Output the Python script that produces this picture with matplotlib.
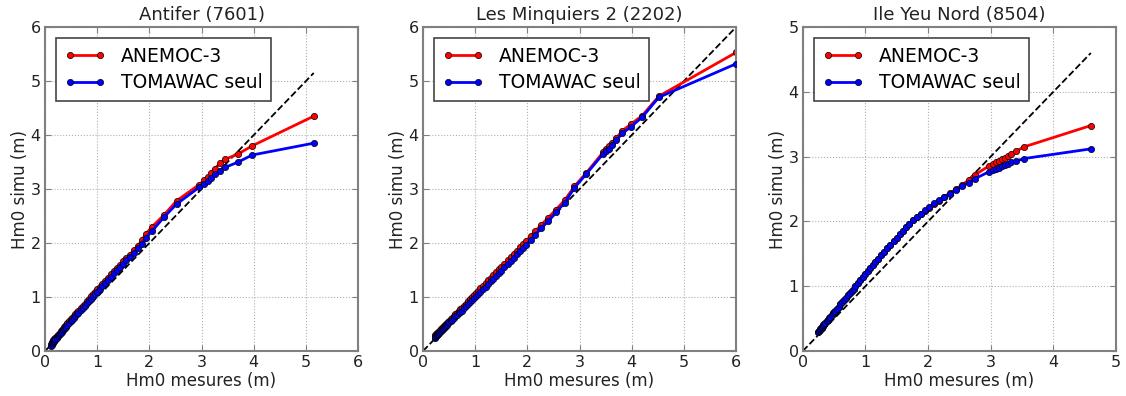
import numpy as np
import matplotlib
matplotlib.use("Agg")
import matplotlib.pyplot as plt

titles = ["Antifer (7601)", "Les Minquiers 2 (2202)", "Ile Yeu Nord (8504)"]
axis_max = [6, 6, 5]
labels = ["ANEMOC-3", "TOMAWAC seul"]

x_antifer = [0.12, 0.13, 0.14, 0.15, 0.16, 0.17, 0.18, 0.19, 0.2,
             0.22, 0.24, 0.26, 0.28, 0.3, 0.32, 0.34, 0.36, 0.38, 0.4,
             0.43, 0.46, 0.49, 0.52, 0.55, 0.58, 0.61, 0.64,
             0.68, 0.72, 0.76, 0.8, 0.84, 0.88, 0.92, 0.96, 1.0,
             1.05, 1.1, 1.15, 1.2,
             1.26, 1.32, 1.38, 1.44, 1.5, 1.56, 1.62,
             1.7, 1.78, 1.86,
             1.93, 2.05, 2.28, 2.52,
             2.95, 3.05, 3.12, 3.18, 3.25, 3.36, 3.45,
             3.7, 3.97, 5.15]
anemoc_antifer = [0.13, 0.15, 0.17, 0.18, 0.2, 0.21, 0.22, 0.24, 0.25,
                  0.27, 0.3, 0.32, 0.34, 0.37, 0.39, 0.41, 0.44, 0.46, 0.48,
                  0.52, 0.55, 0.59, 0.62, 0.65, 0.69, 0.72, 0.75,
                  0.8, 0.84, 0.88, 0.93, 0.97, 1.01, 1.06, 1.1, 1.14,
                  1.19, 1.25, 1.3, 1.35,
                  1.42, 1.48, 1.54, 1.6, 1.66, 1.72, 1.78,
                  1.87, 1.95, 2.06,
                  2.17, 2.3, 2.52, 2.78,
                  3.08, 3.16, 3.23, 3.3, 3.38, 3.48, 3.55,
                  3.65, 3.8, 4.35]
tomawac_antifer = [0.1, 0.12, 0.14, 0.15, 0.17, 0.18, 0.19, 0.21, 0.22,
                   0.24, 0.27, 0.29, 0.31, 0.34, 0.36, 0.38, 0.41, 0.43, 0.45,
                   0.49, 0.52, 0.55, 0.58, 0.61, 0.65, 0.68, 0.71,
                   0.76, 0.8, 0.84, 0.89, 0.93, 0.97, 1.02, 1.06, 1.1,
                   1.15, 1.21, 1.26, 1.31,
                   1.38, 1.44, 1.5, 1.56, 1.62, 1.68, 1.74,
                   1.82, 1.9, 1.99,
                   2.1, 2.22, 2.48, 2.72,
                   3.03, 3.1, 3.15, 3.2, 3.27, 3.33, 3.4,
                   3.5, 3.63, 3.85]

x_minquiers = [0.22, 0.23, 0.24, 0.25, 0.26, 0.27, 0.28, 0.29, 0.3,
               0.32, 0.34, 0.36, 0.38, 0.4, 0.42, 0.44, 0.46, 0.48, 0.5,
               0.53, 0.56, 0.59, 0.62, 0.65, 0.68, 0.71, 0.74,
               0.78, 0.82, 0.86, 0.9, 0.94, 0.98, 1.02, 1.06, 1.1,
               1.15, 1.2, 1.25, 1.3, 1.35, 1.4, 1.45, 1.5,
               1.56, 1.62, 1.68, 1.74, 1.8, 1.86, 1.92, 1.98,
               2.06, 2.15, 2.26, 2.4, 2.55, 2.72, 2.9, 3.13,
               3.45, 3.5, 3.56, 3.62, 3.7, 3.82, 3.98, 4.2, 4.52, 6.0]
anemoc_minquiers = [0.28, 0.29, 0.3, 0.31, 0.32, 0.33, 0.34, 0.35, 0.36,
                    0.38, 0.4, 0.42, 0.44, 0.46, 0.48, 0.5, 0.52, 0.54, 0.56,
                    0.59, 0.62, 0.65, 0.68, 0.71, 0.74, 0.77, 0.8,
                    0.84, 0.88, 0.92, 0.96, 1.0, 1.04, 1.08, 1.12, 1.16,
                    1.21, 1.26, 1.31, 1.36, 1.41, 1.46, 1.51, 1.56,
                    1.62, 1.68, 1.74, 1.8, 1.86, 1.92, 1.98, 2.04,
                    2.13, 2.22, 2.33, 2.47, 2.62, 2.8, 3.05, 3.3,
                    3.68, 3.74, 3.8, 3.86, 3.94, 4.08, 4.2, 4.36, 4.72, 5.53]
tomawac_minquiers = [0.25, 0.26, 0.27, 0.28, 0.29, 0.3, 0.31, 0.32, 0.33,
                     0.35, 0.37, 0.39, 0.41, 0.43, 0.45, 0.47, 0.49, 0.51, 0.53,
                     0.56, 0.58, 0.61, 0.64, 0.67, 0.7, 0.72, 0.75,
                     0.79, 0.83, 0.87, 0.9, 0.94, 0.98, 1.01, 1.05, 1.09,
                     1.14, 1.19, 1.24, 1.29, 1.34, 1.39, 1.44, 1.49,
                     1.55, 1.61, 1.67, 1.73, 1.79, 1.85, 1.91, 1.97,
                     2.06, 2.15, 2.27, 2.41, 2.57, 2.75, 3.02, 3.28,
                     3.65, 3.7, 3.75, 3.82, 3.9, 4.03, 4.15, 4.33, 4.7, 5.32]

x_yeu = [0.25, 0.26, 0.27, 0.28, 0.29, 0.3, 0.31, 0.32, 0.33, 0.34,
         0.36, 0.38, 0.4, 0.42, 0.44, 0.46, 0.48, 0.5, 0.52, 0.54,
         0.57, 0.6, 0.63, 0.66, 0.69, 0.72, 0.75, 0.78, 0.81, 0.84,
         0.88, 0.92, 0.96, 1.0, 1.04, 1.08, 1.12, 1.16, 1.2,
         1.25, 1.3, 1.35, 1.4, 1.45, 1.5, 1.55, 1.6, 1.65, 1.7,
         1.76, 1.82, 1.88, 1.95, 2.02, 2.1, 2.18, 2.26, 2.35, 2.45,
         2.55, 2.65, 2.75,
         2.98, 3.03, 3.08, 3.13, 3.18, 3.23, 3.28, 3.33, 3.4, 3.53, 4.6]
anemoc_yeu = [0.3, 0.31, 0.32, 0.34, 0.35, 0.36, 0.37, 0.39, 0.4, 0.41,
              0.44, 0.46, 0.48, 0.51, 0.53, 0.56, 0.58, 0.6, 0.62, 0.65,
              0.68, 0.72, 0.75, 0.79, 0.82, 0.86, 0.89, 0.93, 0.96, 1.0,
              1.05, 1.1, 1.14, 1.19, 1.24, 1.28, 1.33, 1.37, 1.42,
              1.48, 1.53, 1.59, 1.64, 1.7, 1.75, 1.8, 1.86, 1.91, 1.96,
              2.02, 2.07, 2.12, 2.16, 2.21, 2.27, 2.32, 2.38, 2.44, 2.5,
              2.57, 2.64, 2.72,
              2.86, 2.89, 2.92, 2.94, 2.96, 2.98, 3.01, 3.04, 3.08, 3.15, 3.48]
tomawac_yeu = [0.3, 0.31, 0.32, 0.34, 0.35, 0.36, 0.37, 0.39, 0.4, 0.41,
               0.44, 0.46, 0.48, 0.51, 0.53, 0.56, 0.58, 0.6, 0.62, 0.65,
               0.68, 0.72, 0.75, 0.79, 0.82, 0.86, 0.89, 0.93, 0.96, 1.0,
               1.05, 1.1, 1.14, 1.19, 1.24, 1.28, 1.33, 1.37, 1.42,
               1.48, 1.53, 1.59, 1.64, 1.7, 1.75, 1.8, 1.86, 1.91, 1.96,
               2.02, 2.07, 2.12, 2.17, 2.22, 2.28, 2.33, 2.38, 2.43, 2.49,
               2.55, 2.6, 2.66,
               2.77, 2.79, 2.81, 2.83, 2.85, 2.87, 2.89, 2.91, 2.93, 2.97, 3.12]

xs = [x_antifer, x_minquiers, x_yeu]
anemoc = [anemoc_antifer, anemoc_minquiers, anemoc_yeu]
tomawac = [tomawac_antifer, tomawac_minquiers, tomawac_yeu]

fig = plt.figure(figsize=(11.26, 3.96), dpi=100)
lefts = [0.040, 0.3757, 0.713]

for i in range(3):
    ax = fig.add_axes([lefts[i], 0.1136, 0.278, 0.818])
    x = np.array(xs[i])

    # diagonal y = x
    ax.plot([0, x.max()], [0, x.max()], 'k--', lw=1.3, zorder=1)

    ax.plot(x, anemoc[i], '-o', color='red', lw=2, ms=4.5, mec='k', mew=0.5,
            label=labels[0], zorder=2)
    ax.plot(x, tomawac[i], '-o', color='blue', lw=2, ms=4.5, mec='k', mew=0.5,
            label=labels[1], zorder=3)

    ax.set_xlim(0, axis_max[i])
    ax.set_ylim(0, axis_max[i])
    ax.set_xticks(range(axis_max[i] + 1))
    ax.set_yticks(range(axis_max[i] + 1))
    ax.grid(True, color='#b0b0b0', linestyle=':', linewidth=0.8)
    ax.set_axisbelow(True)
    for s in ax.spines.values():
        s.set_color('#808080')
        s.set_linewidth(1.5)
    ax.tick_params(direction='in', length=4, color='#808080', labelsize=11.5,
                   labelcolor='#222222', top=True, right=True, pad=3)

    ax.set_title(titles[i], fontsize=13, color='#222222', pad=5)
    ax.set_xlabel("Hm0 mesures (m)", fontsize=12, color='#222222', labelpad=1)
    ax.set_ylabel("Hm0 simu (m)", fontsize=12, color='#222222', labelpad=1)

    leg = ax.legend(loc='upper left', fontsize=13.5, numpoints=2, fancybox=False,
                    handlelength=2.2, borderpad=0.45, labelspacing=0.4,
                    borderaxespad=0.6, framealpha=1)
    leg.get_frame().set_edgecolor('#444444')
    leg.get_frame().set_linewidth(1.2)

fig.savefig("out.png", dpi=100, facecolor='white')
